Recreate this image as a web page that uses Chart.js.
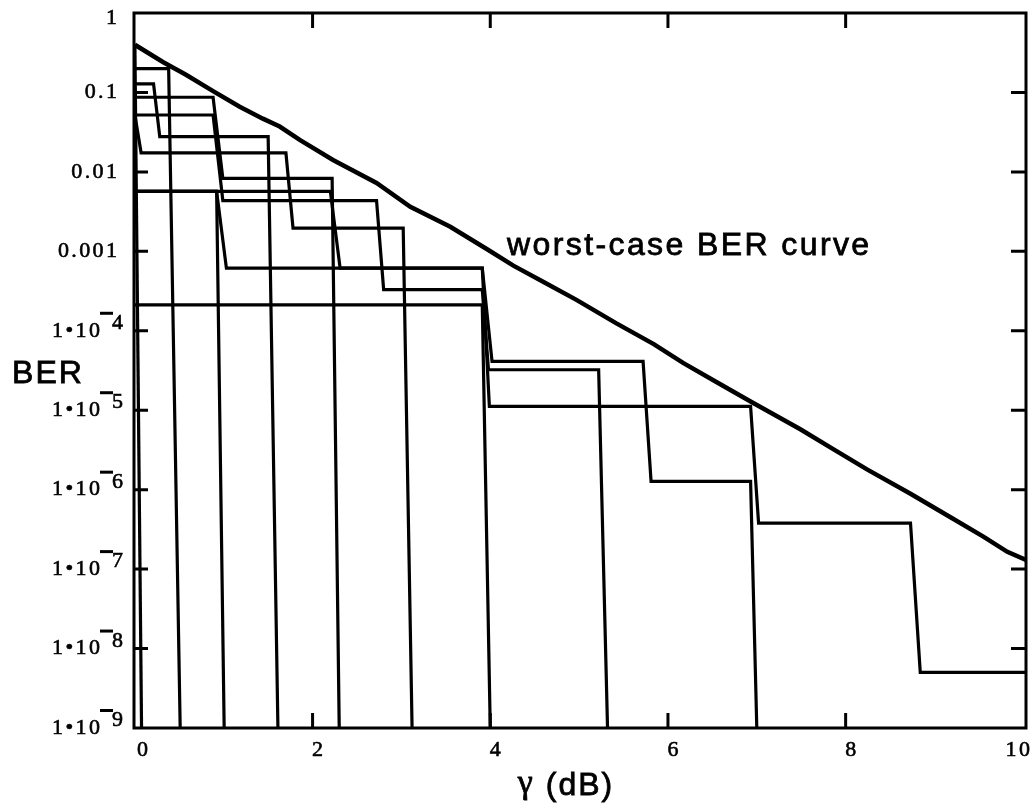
<!DOCTYPE html>
<html>
<head>
<meta charset="utf-8">
<script src="https://cdn.jsdelivr.net/npm/chart.js@4"></script>
<style>
  html, body { margin: 0; padding: 0; background: #fff; }
  canvas { display: block; }
</style>
</head>
<body>
<canvas id="chart" width="1035" height="811"></canvas>
<script>
// worst-case BER curve
const worstX   = [0, 0.32, 0.58, 0.88, 1.18, 1.44, 1.63, 1.86, 2.23, 2.72, 3.10, 3.55, 3.96, 4.26, 4.60, 4.97,
                  5.42, 5.84, 6.17, 6.55, 6.93, 7.49, 7.86, 8.24, 8.73, 9.18, 9.55, 9.82, 10.03];
const worstBer = [0.398, 0.240, 0.166, 0.104, 0.066, 0.0468, 0.0372, 0.0251, 0.0141, 0.00724, 0.00363, 0.00204,
                  0.00107, 6.6e-4, 4.1e-4, 2.45e-4, 1.24e-4, 6.8e-5, 3.95e-5, 2.25e-5, 1.29e-5, 5.75e-6,
                  3.24e-6, 1.8e-6, 8.9e-7, 4.5e-7, 2.57e-7, 1.65e-7, 1.3e-7];

// step curves, each one falls to the bottom of the axis at the end
const FLOOR = 1e-9;
const stepZx = [0, 0.075];
const stepZber = [0.4, FLOOR];
const stepAx = [0, 0.38, 0.51];
const stepAber = [0.20, 0.20, FLOOR];
const stepBx = [0, 0.21, 0.28, 1.50, 1.61];
const stepBber = [0.128, 0.128, 0.0278, 0.0278, FLOOR];
const stepCx = [0, 0.88, 0.99, 2.22, 2.30];
const stepCber = [0.087, 0.087, 0.0083, 0.0083, FLOOR];
const stepDx = [0, 0.88, 0.99, 2.72, 2.80, 3.91, 3.98, 5.22, 5.32];
const stepDber = [0.052, 0.052, 0.00435, 0.00435, 3.3e-4, 3.3e-4, 3.23e-5, 3.23e-5, FLOOR];
const stepEx = [0, 0.07, 1.70, 1.78, 3.02, 3.12];
const stepEber = [0.052, 0.0174, 0.0174, 0.00196, 0.00196, FLOOR];
const stepFx = [0, 0.92, 1.03, 3.91, 3.99, 6.93, 7.02, 8.73, 8.84, 10.03];
const stepFber = [0.0057, 0.0057, 6.15e-4, 6.15e-4, 1.12e-5, 1.12e-5, 3.8e-7, 3.8e-7, 5e-9, 5e-9];
const stepGx = [0, 2.20, 2.31, 3.91, 4.02, 5.72, 5.81, 6.93, 7.00];
const stepGber = [0.0057, 0.0057, 6.15e-4, 6.15e-4, 4.11e-5, 4.11e-5, 1.27e-6, 1.27e-6, FLOOR];
const stepHx = [0, 3.91, 4.00];
const stepHber = [2.12e-4, 2.12e-4, FLOOR];
const stepKx = [0, 0.92, 1.005];
const stepKber = [0.0057, 0.0057, FLOOR];

const xTicks = [0, 2, 4, 6, 8, 10];
const xTickLabels = ['0', '2', '4', '6', '8', '10'];
const yTicks = [1, 0.1, 0.01, 0.001, 1e-4, 1e-5, 1e-6, 1e-7, 1e-8, 1e-9];
const yTickBase = ['1', '0.1', '0.01', '0.001', '1•10', '1•10', '1•10', '1•10', '1•10', '1•10'];
const yTickExp = ['', '', '', '', '4', '5', '6', '7', '8', '9'];

const pts = (xs, ys) => xs.map((x, i) => ({ x: x, y: ys[i] }));

const steps = [
  [stepZx, stepZber], [stepAx, stepAber], [stepBx, stepBber], [stepCx, stepCber], [stepDx, stepDber],
  [stepEx, stepEber], [stepFx, stepFber], [stepGx, stepGber], [stepHx, stepHber], [stepKx, stepKber]
];

const datasets = steps.map(s => ({
  data: pts(s[0], s[1]),
  borderColor: '#000', borderWidth: 3.2, pointRadius: 0, tension: 0, fill: false
}));
datasets.push({
  data: pts(worstX, worstBer),
  borderColor: '#000', borderWidth: 4.5, pointRadius: 0, tension: 0, fill: false
});

const SERIF = '"Liberation Serif", "DejaVu Serif", serif';
const SANS = '"Liberation Sans", Arial, sans-serif';

// fill + thin stroke, so the text looks as heavy as the scanned one
function heavyText(ctx, t, x, y, w) {
  ctx.fillText(t, x, y);
  ctx.lineWidth = w;
  ctx.strokeText(t, x, y);
}

const frame = {
  id: 'frame',
  afterDraw(chart) {
    const { ctx, chartArea: a, scales: { x, y } } = chart;
    ctx.save();
    ctx.strokeStyle = '#000';
    ctx.fillStyle = '#000';
    ctx.lineWidth = 3;
    ctx.strokeRect(a.left, a.top, a.right - a.left, a.bottom - a.top);

    // inward ticks on all four sides
    ctx.beginPath();
    xTicks.forEach(v => {
      if (v === xTicks[0] || v === xTicks[xTicks.length - 1]) return;
      const px = x.getPixelForValue(v);
      ctx.moveTo(px, a.bottom); ctx.lineTo(px, a.bottom - 15);
      ctx.moveTo(px, a.top); ctx.lineTo(px, a.top + 15);
    });
    yTicks.forEach(v => {
      if (v === yTicks[0] || v === yTicks[yTicks.length - 1]) return;
      const py = y.getPixelForValue(v);
      ctx.moveTo(a.left, py); ctx.lineTo(a.left + 14, py);
      ctx.moveTo(a.right, py); ctx.lineTo(a.right - 15, py);
    });
    ctx.stroke();

    // x tick labels
    ctx.font = '22px ' + SERIF;
    ctx.letterSpacing = '2.4px';
    ctx.textBaseline = 'middle';
    ctx.textAlign = 'left';
    xTicks.forEach((v, i) => {
      const t = xTickLabels[i];
      const w = ctx.measureText(t).width - 2.4;
      let left = x.getPixelForValue(v) + 5 - w / 2;
      left = Math.max(left, a.left + 3);
      left = Math.min(left, chart.width - 5 - w);
      heavyText(ctx, t, left, a.bottom + 22, 0.6);
    });

    // y tick labels, powers of ten with a raised exponent
    yTicks.forEach((v, i) => {
      let py = y.getPixelForValue(v);
      if (i === 0) py = Math.max(py, a.top + 5);
      ctx.font = '22px ' + SERIF;
      ctx.letterSpacing = '2.4px';
      ctx.textAlign = 'right';
      ctx.textBaseline = 'middle';
      if (!yTickExp[i]) {
        heavyText(ctx, yTickBase[i], a.left - 17 + 2.4, py, 0.6);
      } else {
        heavyText(ctx, yTickBase[i], a.left - 34 + 2.4, py, 0.6);
        ctx.letterSpacing = '0px';
        ctx.textAlign = 'left';
        ctx.textBaseline = 'alphabetic';
        heavyText(ctx, yTickExp[i], a.left - 22, py - 2, 0.6);
        ctx.fillRect(a.left - 34, py - 19, 13, 3);
      }
    });

    // axis titles and annotation
    ctx.letterSpacing = '2px';
    ctx.font = '32px ' + SANS;
    ctx.textAlign = 'center';
    ctx.textBaseline = 'middle';
    heavyText(ctx, 'BER', 48, 374, 0.8);

    // γ in a serif face, the rest in sans
    ctx.textAlign = 'left';
    ctx.font = '34px ' + SERIF;
    const gw = ctx.measureText('γ').width;
    ctx.font = '32px ' + SANS;
    const rest = ' (dB)';
    const rw = ctx.measureText(rest).width;
    const x0 = 566 - (gw + rw) / 2;
    ctx.font = '34px ' + SERIF;
    heavyText(ctx, 'γ', x0, 784, 0.8);
    ctx.font = '32px ' + SANS;
    heavyText(ctx, rest, x0 + gw, 786, 0.8);

    ctx.letterSpacing = '2.4px';
    ctx.textBaseline = 'alphabetic';
    heavyText(ctx, 'worst-case BER curve', 507, 255, 0.8);
    ctx.restore();
  }
};

new Chart(document.getElementById('chart'), {
  type: 'line',
  data: { datasets: datasets },
  options: {
    responsive: false,
    devicePixelRatio: 1,
    animation: false,
    layout: { padding: { top: 13, right: 9, left: 0, bottom: 0 } },
    plugins: { legend: { display: false }, tooltip: { enabled: false } },
    scales: {
      x: {
        type: 'linear', min: -0.01, max: 10.03,
        grid: { display: false }, border: { display: false },
        ticks: { display: false },
        afterBuildTicks: s => { s.ticks = xTicks.map(v => ({ value: v })); },
        afterFit: s => { s.height = 83; }
      },
      y: {
        type: 'logarithmic', min: 1e-9, max: 1,
        grid: { display: false }, border: { display: false },
        ticks: { display: false },
        afterBuildTicks: s => { s.ticks = yTicks.map(v => ({ value: v })); },
        afterFit: s => { s.width = 134; }
      }
    }
  },
  plugins: [frame]
});
</script>
</body>
</html>
